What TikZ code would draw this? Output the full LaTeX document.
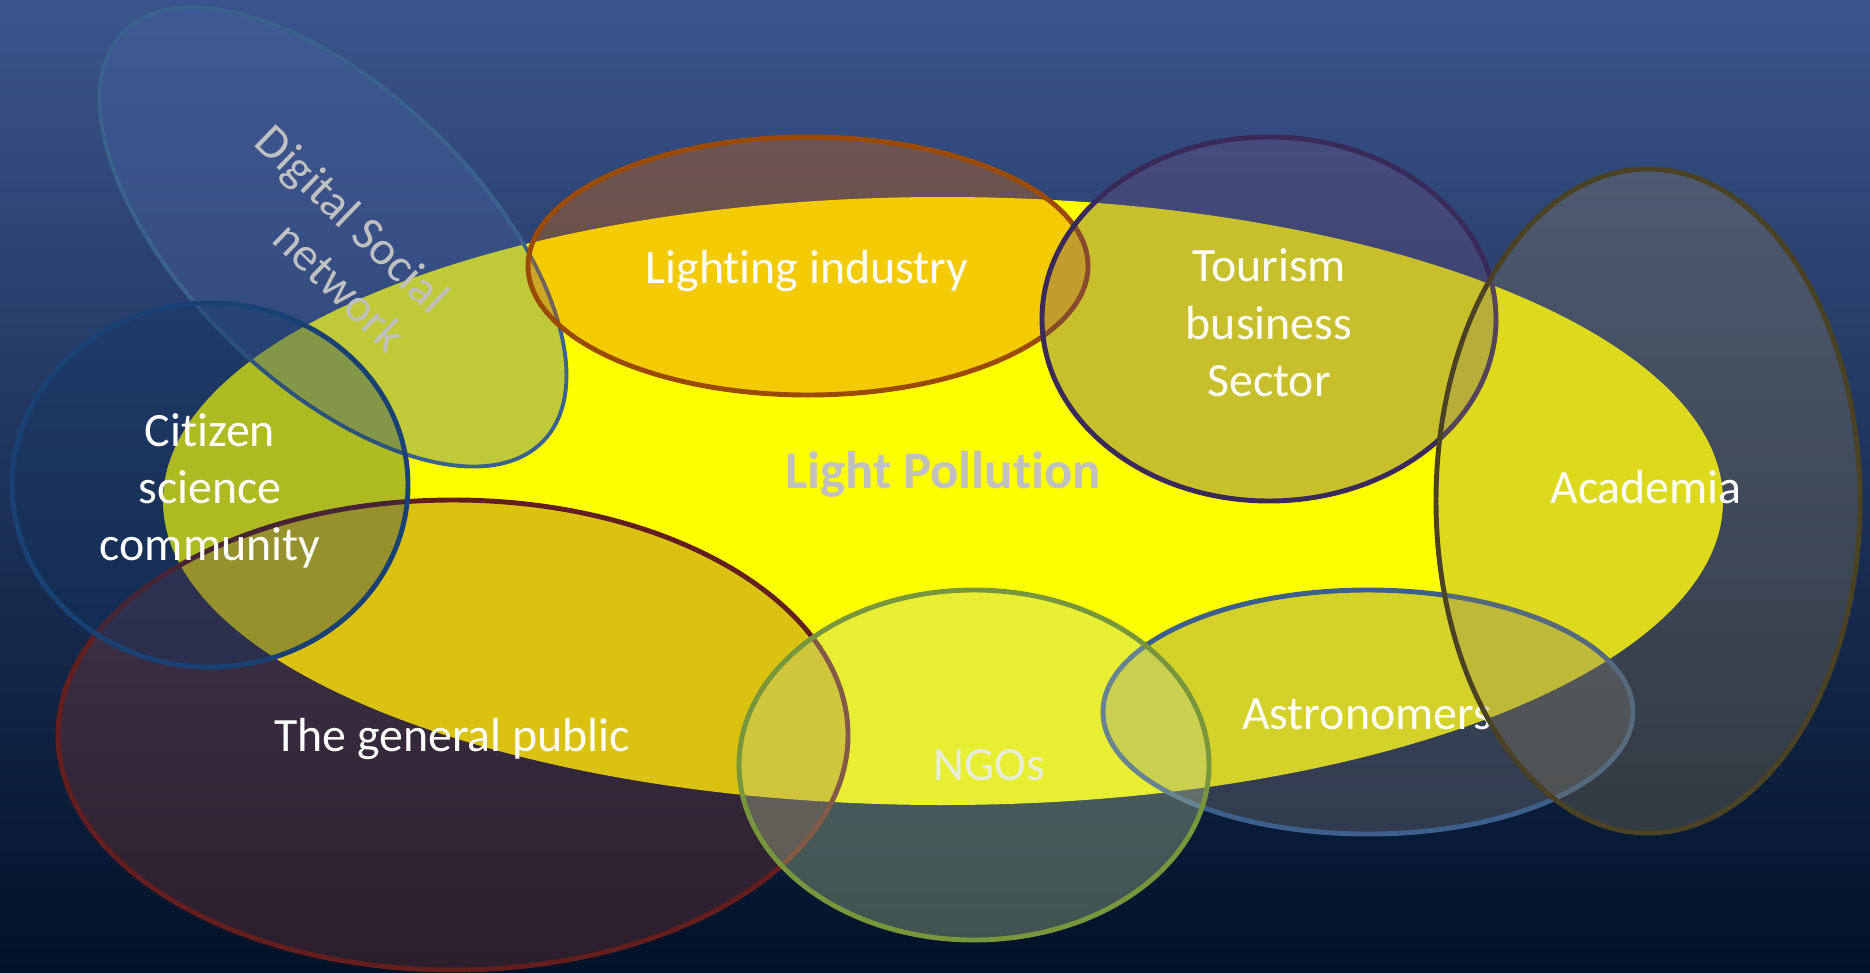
\documentclass[tikz,border=0pt]{standalone}
\usepackage{fontspec}
\setmainfont{Carlito}[Ligatures = {NoCommon}]

\definecolor{bgtop}{RGB}{59,84,140}
\definecolor{bgbottom}{RGB}{0,17,40}
\definecolor{pollution}{RGB}{255,255,0}
\definecolor{pollutiontext}{RGB}{192,192,192}
\definecolor{digitalfill}{RGB}{77,103,166}
\definecolor{digitalline}{RGB}{58,98,140}
\definecolor{publicfill}{RGB}{142,60,52}
\definecolor{publicline}{RGB}{100,30,30}
\definecolor{citizenfill}{RGB}{18,53,100}
\definecolor{citizenline}{RGB}{25,65,115}
\definecolor{lightingfill}{RGB}{224,106,0}
\definecolor{lightingline}{RGB}{156,74,0}
\definecolor{tourismfill}{RGB}{103,80,122}
\definecolor{tourismline}{RGB}{58,42,90}
\definecolor{astrofill}{RGB}{130,123,124}
\definecolor{astroline}{RGB}{60,95,140}
\definecolor{ngofill}{RGB}{188,206,153}
\definecolor{ngoline}{RGB}{120,150,60}
\definecolor{ngotext}{RGB}{232,238,220}
\definecolor{academiafill}{RGB}{145,132,93}
\definecolor{academialine}{RGB}{75,65,35}

\begin{document}
\begin{tikzpicture}[%
        x = 0.01cm,
        y = -0.01cm,
        line width = 1.4pt,
        blob/.style n args = {3}{
            draw = #1,
            fill = #2,
            fill opacity = #3
        },
        label/.style = {
            text = white,
            align = center,
            inner sep = 0pt,
            font = \fontsize{13.6}{16.3}\selectfont
        }
    ]

        % Background, darkening towards the bottom.
        \useasboundingbox (0, 0) rectangle (1870, 973);
        \shade[top color = bgtop, bottom color = bgbottom]
            (0, 0) rectangle (1870, 973);

        % Centres of the ellipses.
        \coordinate (lp) at (943, 501);
        \coordinate (dsn) at (333, 237);
        \coordinate (gp) at (453, 735);
        \coordinate (csc) at (210, 485);
        \coordinate (li) at (808, 266);
        \coordinate (tbs) at (1269, 319);
        \coordinate (ast) at (1368, 712);
        \coordinate (ngo) at (974, 765);
        \coordinate (aca) at (1648, 501);

        % The large yellow ellipse in the middle.
        \fill[pollution] (lp) ellipse [x radius = 780, y radius = 304];
        \node[label, text = pollutiontext,
              font = \fontsize{15}{18}\selectfont\bfseries]
            at (943, 474) (lpl) {Light Pollution};

        % Digital social network, tilted.
        \draw[blob = {digitalline}{digitalfill}{0.35}, line width = 1.1pt,
              rotate around = {-44.2:(dsn)}]
            (dsn) ellipse [x radius = 293, y radius = 146];
        \node[label, text = pollutiontext, rotate = -44]
            at (333, 239) (dsnl) {Digital Social\\\hspace*{0.76cm}network};

        % The general public.
        \draw[blob = {publicline}{publicfill}{0.31}]
            (gp) ellipse [x radius = 395, y radius = 235];
        \node[label] at (452, 739) (gpl) {The general public};

        % Citizen science community.
        \draw[blob = {citizenline}{citizenfill}{0.34}]
            (csc) ellipse [x radius = 198, y radius = 182];
        \node[label] at (210, 491) (cscl) {Citizen\\science\\community};

        % Lighting industry.
        \draw[blob = {lightingline}{lightingfill}{0.35}]
            (li) ellipse [x radius = 280, y radius = 129];
        \node[label] at (807, 271) (lil) {Lighting industry};

        % Tourism business sector.
        \draw[blob = {tourismline}{tourismfill}{0.36}]
            (tbs) ellipse [x radius = 227, y radius = 182];
        \node[label] at (1269, 323) (tbsl) {Tourism\\business\\Sector};

        % Astronomers.
        \draw[blob = {astroline}{astrofill}{0.34}]
            (ast) ellipse [x radius = 265, y radius = 122];
        \node[label] at (1367, 714) (astl) {Astronomers};

        % NGOs.
        \draw[blob = {ngoline}{ngofill}{0.34}]
            (ngo) ellipse [x radius = 235, y radius = 175];
        \node[label, text = ngotext] at (989, 765) (ngol) {NGOs};

        % Academia, drawn last so it covers the end of Astronomers.
        \draw[blob = {academialine}{academiafill}{0.30}]
            (aca) ellipse [x radius = 212, y radius = 332];
        \node[label] at (1646, 487) (acal) {Academia};
    \end{tikzpicture}
\end{document}
